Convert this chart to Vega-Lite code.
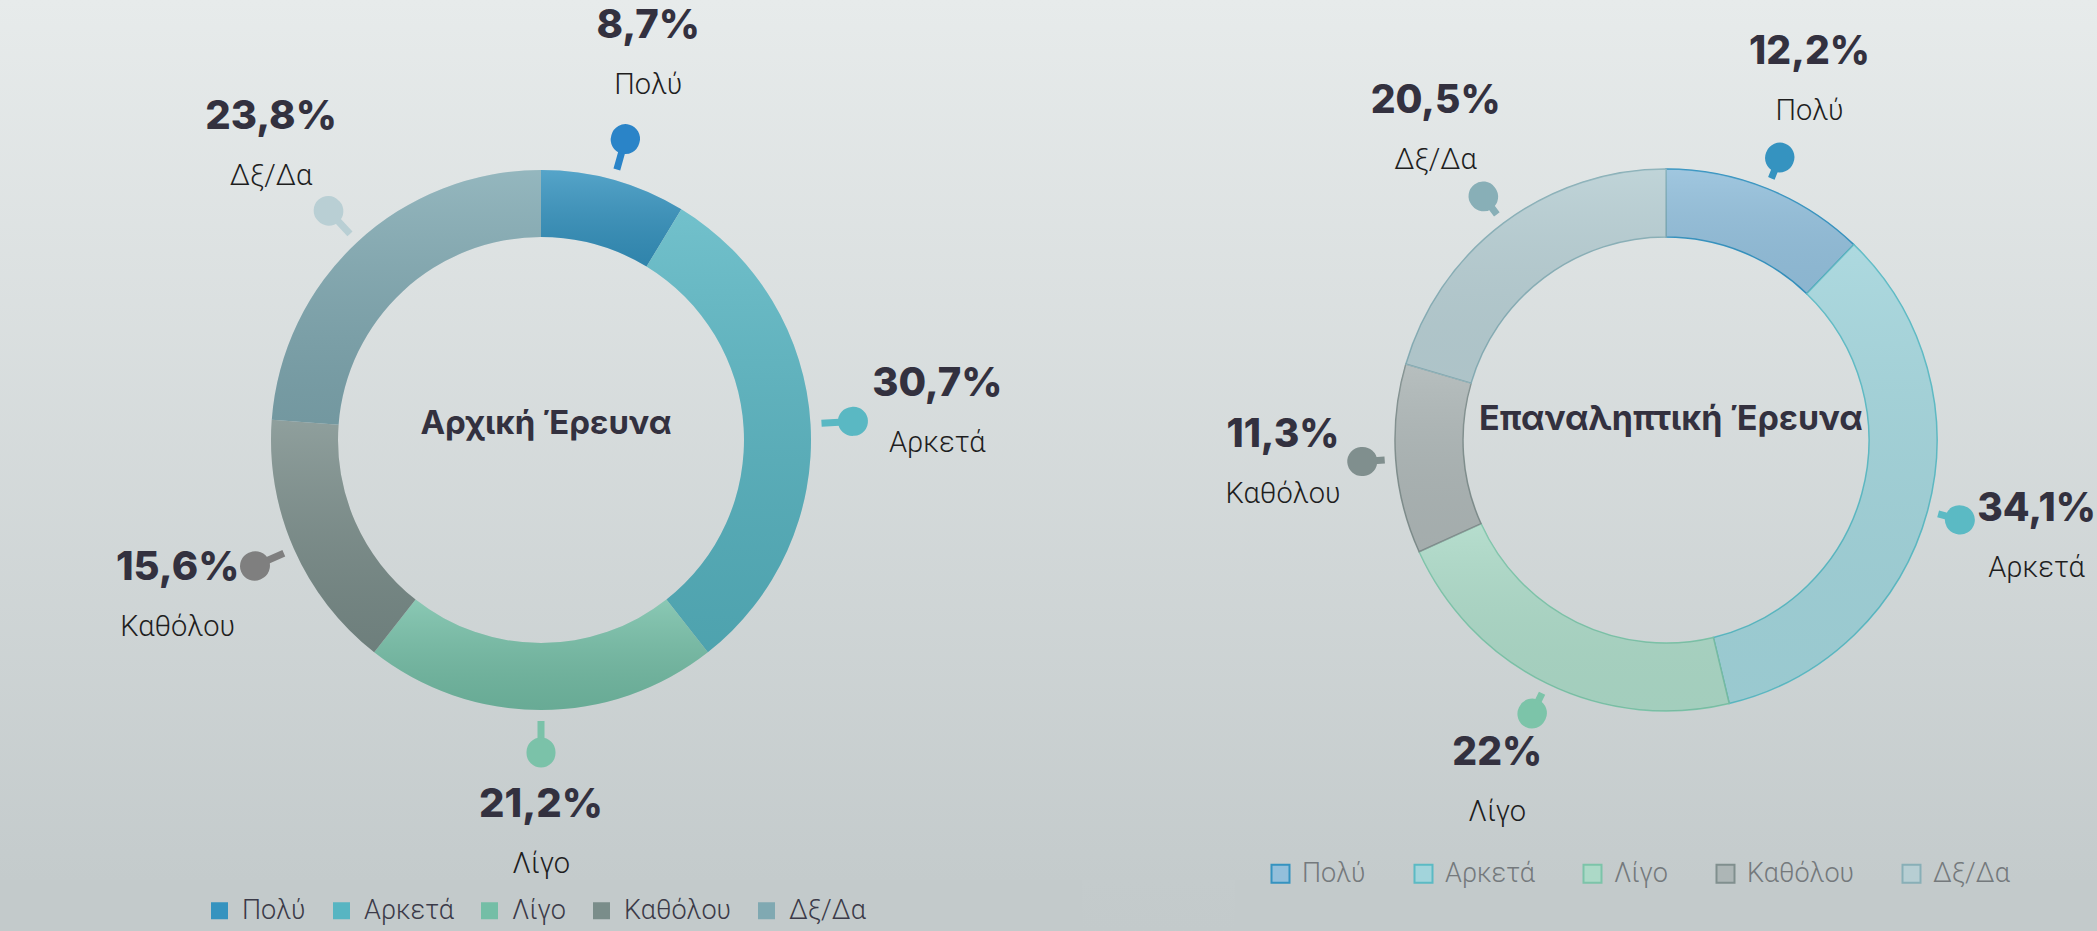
{
  "$schema": "https://vega.github.io/schema/vega-lite/v6.json",
  "padding": 0,
  "background": "#c3cacb",
  "spacing": 0,
  "bounds": "flush",
  "config": {"view": {"stroke": null}},
  "resolve": {"scale": {"color": "independent", "stroke": "independent", "fill": "independent", "theta": "independent"}},
  "hconcat": [
    {
      "width": 1082,
      "height": 880,
      "view": {"stroke": null, "fill": {"gradient": "linear", "x1": 0, "y1": 0, "x2": 0, "y2": 1,
        "stops": [{"offset": 0, "color": "#e7ebeb"}, {"offset": 1, "color": "#c4cbcc"}]}},
      "layer": [
        {
          "data": {"values": [
            {"cat": "Πολύ", "value": 8.7, "label": "8,7%"},
            {"cat": "Αρκετά", "value": 30.7, "label": "30,7%"},
            {"cat": "Λίγο", "value": 21.2, "label": "21,2%"},
            {"cat": "Καθόλου", "value": 15.6, "label": "15,6%"},
            {"cat": "Δξ/Δα", "value": 23.8, "label": "23,8%"}
          ]},
          "transform": [{"window": [{"op": "row_number", "as": "idx"}]}],
          "encoding": {
            "theta": {"field": "value", "type": "quantitative", "stack": true},
            "order": {"field": "idx", "type": "quantitative"},
            "detail": {"field": "cat", "type": "nominal"}
          },
          "layer": [
            {
              "mark": {"type": "arc", "innerRadius": 203, "outerRadius": 270},
              "encoding": {
                "color": {"field": "cat", "type": "nominal",
                  "scale": {"domain": ["Πολύ", "Αρκετά", "Λίγο", "Καθόλου", "Δξ/Δα"],
                            "range": ["#3593bf", "#57b5c2", "#74bea6", "#7a8d8a", "#80a9b2"]},
                  "legend": {"orient": "none", "legendX": 206, "legendY": 897, "direction": "horizontal",
                    "title": null, "padding": 0, "symbolType": "square", "symbolSize": 289,
                    "symbolStrokeWidth": 0, "labelFont": "Roboto", "labelFontWeight": 300,
                    "labelFontSize": 27, "labelColor": "#3b3a48", "labelOffset": 9, "columnPadding": 22}}
              }
            },
            {
              "mark": {"type": "arc", "innerRadius": 203, "outerRadius": 270,
                "fill": {"gradient": "linear", "x1": 0, "y1": 0, "x2": 0, "y2": 1,
                  "stops": [{"offset": 0, "color": "rgba(255,255,255,0.16)"}, {"offset": 1, "color": "rgba(0,0,0,0.10)"}]}}
            },
            {
              "mark": {"type": "arc", "innerRadius": 281, "outerRadius": 312, "padAngle": 3.1, "strokeWidth": 7, "fillOpacity": 0},
              "encoding": {
                "stroke": {"field": "cat", "type": "nominal",
                  "scale": {"domain": ["Πολύ", "Αρκετά", "Λίγο", "Καθόλου", "Δξ/Δα"],
                            "range": ["#2a84c8", "#5ab8c3", "#7bc2a9", "#7f7f7f", "#b9cfd4"]},
                  "legend": null}
              }
            },
            {
              "mark": {"type": "arc", "innerRadius": 312, "outerRadius": 313, "padAngle": 3.1, "strokeWidth": 29,
                "strokeJoin": "round", "strokeCap": "round", "fillOpacity": 0},
              "encoding": {
                "stroke": {"field": "cat", "type": "nominal", "legend": null}
              }
            },
            {
              "mark": {"type": "text", "radius": 397, "dy": -32, "font": "Inter", "fontWeight": 800,
                "fontSize": 40, "color": "#33313f", "baseline": "middle", "align": "center"},
              "encoding": {"text": {"field": "label"}}
            },
            {
              "mark": {"type": "text", "radius": 397, "dy": 27, "font": "Roboto", "fontWeight": 300,
                "fontSize": 29, "color": "#1e1e1e", "baseline": "middle", "align": "center"},
              "encoding": {"text": {"field": "cat"}}
            }
          ]
        },
        {
          "data": {"values": [{"t": "Αρχική Έρευνα"}]},
          "mark": {"type": "text", "font": "Inter", "fontWeight": 700, "fontSize": 33, "color": "#33313f",
            "dx": 5, "dy": -16, "baseline": "middle", "align": "center"},
          "encoding": {"text": {"field": "t"}}
        }
      ]
    },
    {
      "width": 153,
      "height": 931,
      "view": {"stroke": null, "fill": {"gradient": "linear", "x1": 0, "y1": 0, "x2": 0, "y2": 1,
        "stops": [{"offset": 0, "color": "#e7ebeb"}, {"offset": 0.945, "color": "#c4cbcc"}, {"offset": 1, "color": "#c3cacb"}]}},
      "data": {"values": [{}]},
      "mark": {"type": "text"},
      "encoding": {"text": {"value": ""}}
    },
    {
      "width": 862,
      "height": 880,
      "view": {"stroke": null, "fill": {"gradient": "linear", "x1": 0, "y1": 0, "x2": 0, "y2": 1,
        "stops": [{"offset": 0, "color": "#e7ebeb"}, {"offset": 1, "color": "#c4cbcc"}]}},
      "layer": [
        {
          "data": {"values": [
            {"cat": "Πολύ", "value": 12.2, "label": "12,2%"},
            {"cat": "Αρκετά", "value": 34.1, "label": "34,1%"},
            {"cat": "Λίγο", "value": 22, "label": "22%"},
            {"cat": "Καθόλου", "value": 11.3, "label": "11,3%"},
            {"cat": "Δξ/Δα", "value": 20.5, "label": "20,5%"}
          ]},
          "transform": [{"window": [{"op": "row_number", "as": "idx"}]}],
          "encoding": {
            "theta": {"field": "value", "type": "quantitative", "stack": true},
            "order": {"field": "idx", "type": "quantitative"},
            "detail": {"field": "cat", "type": "nominal"}
          },
          "layer": [
            {
              "mark": {"type": "arc", "innerRadius": 203, "outerRadius": 271, "strokeWidth": 1.5},
              "encoding": {
                "fill": {"field": "cat", "type": "nominal",
                  "scale": {"domain": ["Πολύ", "Αρκετά", "Λίγο", "Καθόλου", "Δξ/Δα"],
                            "range": ["#93bfdb", "#a2d4db", "#acd9c7", "#adb6b6", "#b7ced3"]},
                  "legend": {"orient": "none", "legendX": 32, "legendY": 860, "direction": "horizontal",
                    "title": null, "padding": 0, "symbolType": "square", "symbolSize": 324,
                    "symbolStrokeWidth": 2, "labelFont": "Roboto", "labelFontWeight": 300,
                    "labelFontSize": 27, "labelColor": "#74797c", "labelOffset": 8, "columnPadding": 44}},
                "stroke": {"field": "cat", "type": "nominal",
                  "scale": {"domain": ["Πολύ", "Αρκετά", "Λίγο", "Καθόλου", "Δξ/Δα"],
                            "range": ["#3593c0", "#5bbac4", "#7cc4a9", "#808f8e", "#88afb7"]},
                  "legend": {"orient": "none", "legendX": 32, "legendY": 860, "direction": "horizontal",
                    "title": null, "padding": 0, "symbolType": "square", "symbolSize": 324,
                    "symbolStrokeWidth": 2, "labelFont": "Roboto", "labelFontWeight": 300,
                    "labelFontSize": 27, "labelColor": "#74797c", "labelOffset": 8, "columnPadding": 44}}
              }
            },
            {
              "mark": {"type": "arc", "innerRadius": 203, "outerRadius": 271,
                "fill": {"gradient": "linear", "x1": 0, "y1": 0, "x2": 0, "y2": 1,
                  "stops": [{"offset": 0, "color": "rgba(255,255,255,0.12)"}, {"offset": 1, "color": "rgba(0,0,0,0.05)"}]}}
            },
            {
              "mark": {"type": "arc", "innerRadius": 282, "outerRadius": 304, "padAngle": 3.1, "strokeWidth": 7, "fillOpacity": 0},
              "encoding": {"stroke": {"field": "cat", "type": "nominal", "legend": null}}
            },
            {
              "mark": {"type": "arc", "innerRadius": 304, "outerRadius": 305, "padAngle": 3.1, "strokeWidth": 29,
                "strokeJoin": "round", "strokeCap": "round", "fillOpacity": 0},
              "encoding": {"stroke": {"field": "cat", "type": "nominal", "legend": null}}
            },
            {
              "mark": {"type": "text", "radius": 384, "dy": -32, "font": "Inter", "fontWeight": 800,
                "fontSize": 39, "color": "#33313f", "baseline": "middle", "align": "center"},
              "encoding": {"text": {"field": "label"}}
            },
            {
              "mark": {"type": "text", "radius": 384, "dy": 27, "font": "Roboto", "fontWeight": 300,
                "fontSize": 29, "color": "#1e1e1e", "baseline": "middle", "align": "center"},
              "encoding": {"text": {"field": "cat"}}
            }
          ]
        },
        {
          "data": {"values": [{"t": "Επαναληπτική Έρευνα"}]},
          "mark": {"type": "text", "font": "Inter", "fontWeight": 700, "fontSize": 34, "color": "#33313f",
            "dx": 5, "dy": -20, "baseline": "middle", "align": "center"},
          "encoding": {"text": {"field": "t"}}
        }
      ]
    }
  ]
}
